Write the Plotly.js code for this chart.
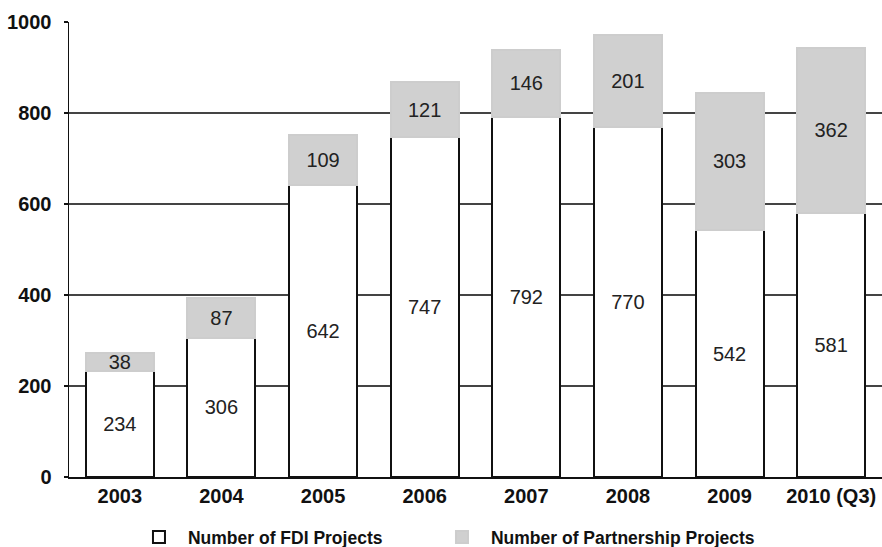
<!DOCTYPE html>
<html>
<head>
<meta charset="utf-8">
<script src="https://cdn.plot.ly/plotly-3.0.1.min.js"></script>
<style>html,body{margin:0;padding:0;background:#fff;}#chart{width:882px;height:547px;}</style>
</head>
<body>
<div id="chart"></div>
<script>
const years = ["2003", "2004", "2005", "2006", "2007", "2008", "2009", "2010 (Q3)"];
const fdiProjects = [234, 306, 642, 747, 792, 770, 542, 581];
const partnershipProjects = [38, 87, 109, 121, 146, 201, 303, 362];
const seriesNames = ["Number of FDI Projects", "Number of Partnership Projects"];
const yTicks = [0, 200, 400, 600, 800, 1000];

const font = "Arial, 'Liberation Sans', sans-serif";
const textFont = {family: font, size: 20, color: "#222"};
const legendFont = {family: font, size: 17.5, color: "#111", weight: "bold"};

const traces = [
  {
    type: "bar", name: seriesNames[0], x: years, y: fdiProjects, legend: "legend",
    marker: {color: "#ffffff", line: {color: "#111", width: 2}},
    text: fdiProjects.map(String), textposition: "inside", insidetextanchor: "middle",
    textangle: 0, constraintext: "none", textfont: textFont, hoverinfo: "skip"
  },
  {
    type: "bar", name: seriesNames[1], x: years, y: partnershipProjects, legend: "legend2",
    marker: {color: "#d0d0d0", line: {color: "#cdcdcd", width: 2}},
    text: partnershipProjects.map(String), textposition: "inside", insidetextanchor: "middle",
    textangle: 0, constraintext: "none", textfont: textFont, hoverinfo: "skip"
  }
];

const legendCommon = {
  orientation: "h", xanchor: "left", y: -0.132, yanchor: "middle",
  itemwidth: 48, font: legendFont, itemclick: false, bgcolor: "rgba(0,0,0,0)"
};

const layout = {
  width: 882, height: 547,
  margin: {l: 69, r: 0, t: 22, b: 70, autoexpand: false},
  paper_bgcolor: "#fff", plot_bgcolor: "#fff",
  barmode: "stack", bargap: 0.33,
  font: {family: font, color: "#111"},
  showlegend: true,
  legend: Object.assign({}, legendCommon, {x: 0.075}),
  legend2: Object.assign({}, legendCommon, {x: 0.4477}),
  xaxis: {
    type: "category", showline: true, linecolor: "#111", linewidth: 2,
    ticks: "", ticklabelstandoff: 0,
    tickfont: {family: font, size: 20, color: "#111", weight: "bold"},
    showgrid: false, zeroline: false
  },
  yaxis: {
    range: [0, 1000], tickvals: yTicks, ticktext: yTicks.map(String),
    showline: true, linecolor: "#111", linewidth: 1.5,
    ticks: "outside", ticklen: 4, tickcolor: "#111", tickwidth: 1.5,
    ticklabelstandoff: 8,
    tickfont: {family: font, size: 20, color: "#111", weight: "bold"},
    showgrid: true, gridcolor: "#444", gridwidth: 1.2, zeroline: false
  }
};

Plotly.newPlot("chart", traces, layout, {displayModeBar: false, staticPlot: true});
</script>
</body>
</html>
